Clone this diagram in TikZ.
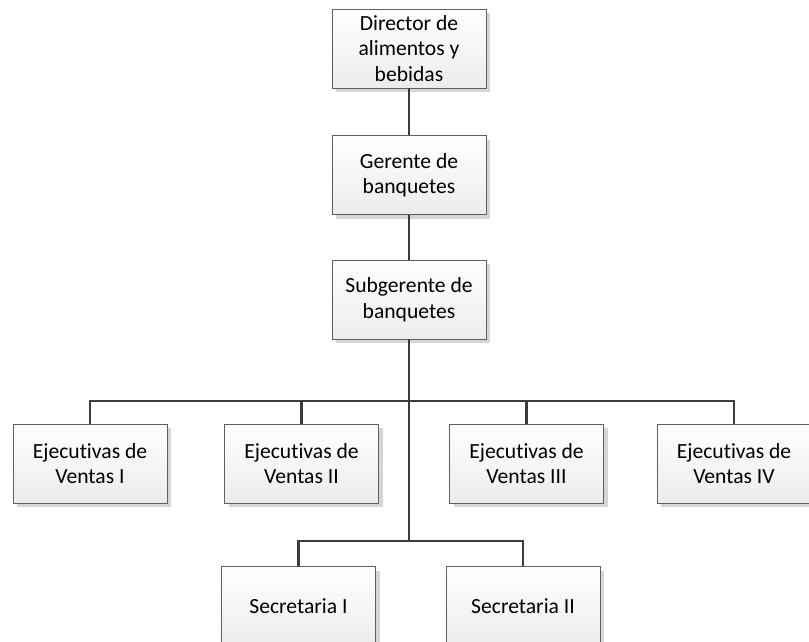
\documentclass[tikz,border=0pt]{standalone}
\usepackage{fontspec}
\setmainfont[Ligatures=NoCommon]{Carlito}
\usetikzlibrary{shadows}
\definecolor{boxline}{HTML}{5F5F5F}
\definecolor{wire}{HTML}{3C3C3C}
\definecolor{boxlow}{HTML}{ECECEC}
\definecolor{shade}{HTML}{D6D6D6}
\begin{document}
\begin{tikzpicture}[x=1pt,y=-1pt,
  orgbox/.style={draw=boxline, line width=0.9pt, top color=white, bottom color=boxlow,
    minimum width=154pt, minimum height=79pt, inner sep=2pt, align=center,
    font=\fontsize{21.6}{25.5}\selectfont,
    drop shadow={shadow xshift=4pt, shadow yshift=-4pt, fill=shade, opacity=1}},
  wire/.style={draw=wire, line width=2.8pt}]
\useasboundingbox (0,0) rectangle (809,641);
% chain of command
\node[orgbox] (dir) at (409,48.5) {Director de\\alimentos y\\bebidas};
\node[orgbox] (ger) at (409,175) {Gerente de\\banquetes};
\node[orgbox] (sub) at (409,299.5) {Subgerente de\\banquetes};
% sales executives
\node[orgbox] (e1) at (90,463.5) {Ejecutivas de\\Ventas I};
\node[orgbox] (e2) at (301.5,463.5) {Ejecutivas de\\Ventas II};
\node[orgbox] (e3) at (526.5,463.5) {Ejecutivas de\\Ventas III};
\node[orgbox] (e4) at (734,463.5) {Ejecutivas de\\Ventas IV};
% secretaries
\node[orgbox] (s1) at (298.5,606) {Secretaria I};
\node[orgbox] (s2) at (523,606) {Secretaria II};
% branching points
\coordinate (b1) at (409,401);
\coordinate (b2) at (409,541);
% connectors
\draw[wire] (dir.south) -- (ger.north);
\draw[wire] (ger.south) -- (sub.north);
\draw[wire] (sub.south) -- (b2);
\draw[wire] (e1.north) |- (b1) -| (e4.north);
\draw[wire] (e2.north) -- (e2.north |- b1);
\draw[wire] (e3.north) -- (e3.north |- b1);
\draw[wire] (s1.north) |- (b2) -| (s2.north);
\end{tikzpicture}
\end{document}
